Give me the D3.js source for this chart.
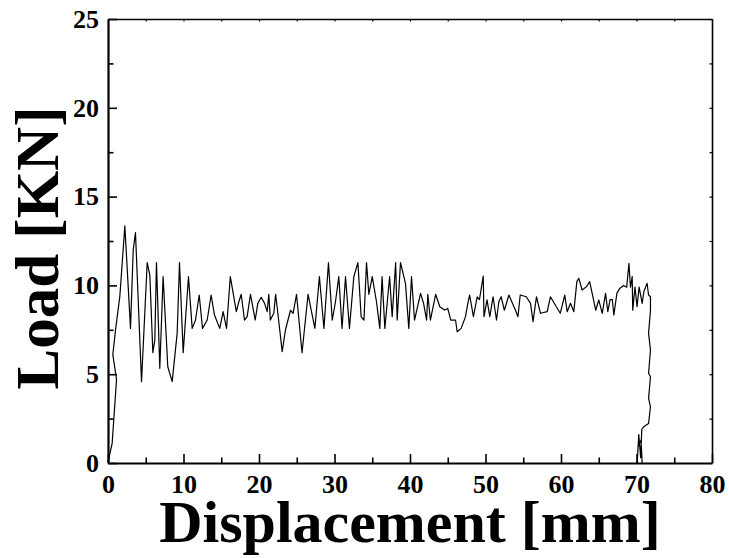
<!DOCTYPE html>
<html>
<head>
<meta charset="utf-8">
<script src="https://cdn.jsdelivr.net/npm/d3@7"></script>
<style>
  html, body { margin: 0; padding: 0; background: #fff; }
  svg { display: block; }
</style>
</head>
<body>
<svg id="chart" width="729" height="558"></svg>
<script>
// ---- data ----
const displacement = [
  0, 0.55, 1.13, 0.64, 1.0, 1.57, 2.23, 2.98, 3.34, 3.64, 4.44, 5.19, 5.54, 5.94, 6.2, 6.42, 6.86, 7.3, 7.92, 8.5,
  9.16, 9.47, 9.96, 10.66, 11.15, 11.59, 12.08, 12.52, 13.14, 13.66, 14.1, 14.8, 15.25, 15.7, 16.2, 17.0, 17.33, 17.64, 18.08, 18.43,
  18.87, 19.5, 19.84, 20.29, 20.74, 21.08, 21.3, 21.5, 21.96, 22.2, 22.6, 23.07, 23.5, 24.17, 24.52, 24.97, 25.7, 26.5, 27.4, 28.0,
  28.6, 29.2, 29.7, 30.13, 30.57, 31.0, 31.46, 31.98, 32.56, 33.1, 33.53, 33.9, 34.24, 34.55, 35.0, 35.56, 36.0, 36.3, 36.67, 37.3,
  37.64, 38.1, 38.3, 38.74, 39.4, 39.84, 40.2, 40.6, 41.4, 41.8, 42.2, 42.36, 42.7, 43.4, 43.95, 44.57, 45.0, 45.4, 46.03, 46.25,
  46.78, 47.35, 47.66, 47.9, 48.4, 48.9, 49.2, 49.7, 49.8, 50.2, 50.57, 51.0, 51.46, 51.76, 52.08, 52.5, 53.1, 53.97, 54.3, 54.6,
  55.4, 55.96, 56.3, 56.75, 57.28, 58.17, 58.6, 59.5, 59.9, 60.5, 60.82, 61.26, 61.7, 62.1, 62.36, 62.8, 63.38, 63.8, 64.13, 64.6,
  65.0, 65.46, 65.9, 66.2, 66.5, 66.8, 67.0, 67.4, 67.77, 68.3, 68.7, 69.0, 69.2, 69.43, 69.5, 69.8, 70.07, 70.35, 70.75, 70.97,
  71.4, 71.6, 71.85, 71.85, 71.6, 71.85, 71.6, 71.85, 71.6, 71.85, 71.6, 70.95, 70.7, 70.55, 70.3, 70.1, 70.2, 70.6, 70.75
];
const load = [
  0.05, 1.1, 4.7, 6.1, 7.5, 9.4, 13.35, 7.58, 12.0, 12.97, 4.58, 11.28, 10.58, 6.21, 6.93, 11.28, 5.33, 10.49, 5.42, 4.58,
  7.3, 11.28, 6.21, 10.49, 7.58, 8.05, 9.46, 7.58, 8.05, 9.46, 8.33, 7.58, 8.52, 7.58, 10.49, 8.52, 9.08, 9.5, 8.05, 8.24,
  9.5, 8.05, 8.99, 9.33, 8.99, 8.52, 9.5, 8.05, 8.43, 9.5, 8.05, 6.27, 7.49, 8.6, 8.43, 9.5, 6.21, 9.5, 7.58, 10.49,
  7.58, 11.28, 8.05, 9.08, 10.49, 7.58, 10.49, 7.58, 10.49, 11.28, 8.24, 8.05, 11.28, 9.5, 10.49, 9.08, 7.58, 10.49, 7.58, 10.49,
  8.24, 11.28, 8.05, 11.28, 10.12, 7.58, 10.49, 8.05, 9.55, 8.99, 8.05, 9.5, 8.05, 9.5, 8.8, 8.61, 8.7, 8.05, 8.05, 7.39,
  7.58, 8.24, 8.99, 9.46, 8.24, 9.36, 9.2, 10.53, 8.24, 9.18, 8.24, 9.36, 8.05, 9.08, 9.36, 8.6, 9.46, 8.6, 8.24, 9.46,
  9.36, 8.99, 7.96, 9.36, 8.43, 8.52, 9.36, 8.71, 8.43, 9.46, 8.52, 8.99, 8.52, 10.21, 10.4, 9.74, 9.93, 10.21, 9.55, 8.6,
  9.18, 8.43, 9.55, 8.52, 9.2, 9.2, 8.33, 9.55, 9.83, 10.0, 9.9, 11.24, 9.9, 10.49, 8.6, 9.9, 8.8, 9.9, 8.99, 9.64,
  10.12, 9.46, 9.36, 8.6, 7.3, 6.36, 5.05, 4.86, 3.64, 3.17, 2.23, 2.04, 1.9, 0.3, 1.6, 0.05, 0.9, 1.3, 0.0
];
const xMajorTicks = [0, 10, 20, 30, 40, 50, 60, 70, 80];
const xMinorTicks = [5, 15, 25, 35, 45, 55, 65, 75];
const yMajorTicks = [0, 5, 10, 15, 20, 25];
const yMinorTicks = [2.5, 7.5, 12.5, 17.5, 22.5];
const xTitle = "Displacement [mm]";
const yTitle = "Load [KN]";

// ---- chart ----
(function () {
  const svg = d3.select("#chart");
  const mLeft = 108, mRight = 712, mTop = 19, mBottom = 463;
  const x = d3.scaleLinear().domain([0, 80]).range([mLeft, mRight]);
  const y = d3.scaleLinear().domain([0, 25]).range([mBottom, mTop]);
  const font = '"Liberation Serif", "Times New Roman", serif';

  // curve
  const pts = displacement.map((d, i) => [d, load[i]]);
  svg.append("path")
    .datum(pts)
    .attr("fill", "none")
    .attr("stroke", "#000")
    .attr("stroke-width", 1.2)
    .attr("stroke-linejoin", "round")
    .attr("d", d3.line().x(d => x(d[0])).y(d => y(d[1])));

  // top & right frame with tiny ticks
  const gTop = svg.append("g").attr("transform", `translate(0,${mTop})`)
    .call(d3.axisTop(x).tickValues(xMajorTicks.concat(xMinorTicks)).tickSizeInner(-2.5).tickSizeOuter(0).tickFormat(""));
  const gRight = svg.append("g").attr("transform", `translate(${mRight},0)`)
    .call(d3.axisRight(y).tickValues(yMajorTicks.concat(yMinorTicks)).tickSizeInner(-2.5).tickSizeOuter(0).tickFormat(""));
  [gTop, gRight].forEach(g => {
    g.select(".domain").attr("stroke-width", 1.6);
    g.selectAll(".tick line").attr("stroke-width", 1.2);
    g.selectAll(".tick text").remove();
  });

  // bottom axis
  const gBottom = svg.append("g").attr("transform", `translate(0,${mBottom})`)
    .call(d3.axisBottom(x).tickValues(xMajorTicks).tickSizeInner(-9).tickSizeOuter(0).tickPadding(12).tickFormat(d3.format("d")));
  const gBottomMinor = svg.append("g").attr("transform", `translate(0,${mBottom})`)
    .call(d3.axisBottom(x).tickValues(xMinorTicks).tickSizeInner(-5.5).tickSizeOuter(0).tickFormat(""));
  gBottomMinor.select(".domain").remove();
  gBottomMinor.selectAll(".tick text").remove();
  gBottomMinor.selectAll(".tick line").attr("stroke-width", 1.6);

  // left axis
  const gLeft = svg.append("g").attr("transform", `translate(${mLeft},0)`)
    .call(d3.axisLeft(y).tickValues(yMajorTicks).tickSizeInner(-9).tickSizeOuter(0).tickPadding(9).tickFormat(d3.format("d")));
  const gLeftMinor = svg.append("g").attr("transform", `translate(${mLeft},0)`)
    .call(d3.axisLeft(y).tickValues(yMinorTicks).tickSizeInner(-5.5).tickSizeOuter(0).tickFormat(""));
  gLeftMinor.select(".domain").remove();
  gLeftMinor.selectAll(".tick text").remove();
  gLeftMinor.selectAll(".tick line").attr("stroke-width", 1.6);

  [gBottom, gLeft].forEach(g => {
    g.selectAll(".domain").attr("stroke-width", 2.2);
    g.selectAll(".tick line").attr("stroke-width", 1.6);
    g.selectAll(".tick text").attr("font-size", 26).attr("font-family", font).attr("font-weight", "bold").attr("fill", "#000");
  });

  // titles
  svg.append("text")
    .attr("x", (mLeft + mRight) / 2).attr("y", 542)
    .attr("text-anchor", "middle")
    .attr("font-family", font).attr("font-weight", "bold").attr("font-size", 60)
    .text(xTitle);
  svg.append("text")
    .attr("transform", `translate(58,${(mTop + mBottom) / 2 + 7}) rotate(-90)`)
    .attr("text-anchor", "middle")
    .attr("font-family", font).attr("font-weight", "bold").attr("font-size", 61)
    .text(yTitle);
})();
</script>
</body>
</html>
